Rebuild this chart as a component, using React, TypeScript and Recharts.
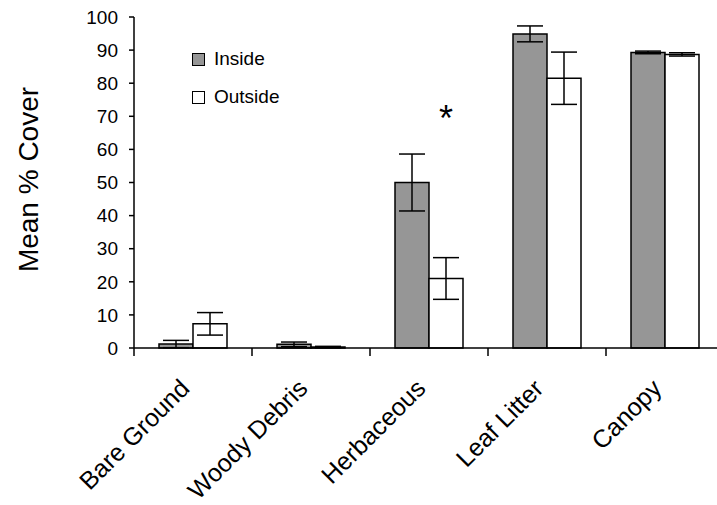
import React from "react";
import {
  BarChart,
  Bar,
  XAxis,
  YAxis,
  ErrorBar,
  Legend,
  ReferenceDot,
} from "recharts";

const FONT = "'Liberation Sans', Arial, sans-serif";

const categories = [
  "Bare Ground",
  "Woody Debris",
  "Herbaceous",
  "Leaf Litter",
  "Canopy",
];
const insideMean = [1.2, 1.1, 50.0, 94.9, 89.3];
const insideErr = [1.1, 0.7, 8.6, 2.4, 0.4];
const outsideMean = [7.3, 0.3, 21.0, 81.5, 88.7];
const outsideErr = [3.4, 0.2, 6.3, 7.9, 0.5];
const yTicks = [0, 10, 20, 30, 40, 50, 60, 70, 80, 90, 100];

// significance marker: category and height of the asterisk
const sigCategory = "Herbaceous";
const sigY = 71;

const data = categories.map((name, i) => ({
  name,
  inside: insideMean[i],
  insideErr: insideErr[i],
  outside: outsideMean[i],
  outsideErr: outsideErr[i],
}));

const BAR_SIZE = 34;

const CategoryTick = (props: any) => {
  const { x, y, payload } = props;
  const half = payload?.offset ?? 59;
  const ax = x - 2;
  const ay = y + 42;
  return (
    <g>
      <line x1={x - half} y1={y} x2={x - half} y2={y + 8} stroke="#000" strokeWidth={1.5} />
      <text
        x={ax}
        y={ay}
        textAnchor="end"
        transform={`rotate(-45, ${ax}, ${ay})`}
        fontSize={25}
        fontFamily={FONT}
        fill="#000"
      >
        {payload.value}
      </text>
    </g>
  );
};

const LegendBox = ({ payload }: any) => (
  <div style={{ fontFamily: FONT, fontSize: 19, color: "#000" }}>
    {(payload || []).map((entry: any, i: number) => (
      <div
        key={i}
        style={{ display: "flex", alignItems: "center", height: 22, marginBottom: 16 }}
      >
        <span
          style={{
            width: 11,
            height: 11,
            border: "1.5px solid #000",
            background: entry.dataKey === "inside" ? "#969696" : "#fff",
            marginRight: 9,
            display: "inline-block",
          }}
        />
        {entry.value}
      </div>
    ))}
  </div>
);

export default function App() {
  return (
    <div
      style={{
        position: "absolute",
        left: 0,
        top: 0,
        width: 717,
        height: 505,
        overflow: "hidden",
        background: "#fff",
      }}
    >
      <BarChart
        width={740}
        height={505}
        data={data}
        margin={{ top: 17, right: 16, left: 0, bottom: 0 }}
        barGap={0}
      >
        <XAxis
          dataKey="name"
          axisLine={{ stroke: "#000", strokeWidth: 1.5 }}
          tickLine={false}
          tickSize={0}
          tickMargin={0}
          interval={0}
          tick={<CategoryTick />}
          height={157}
        />
        <YAxis
          domain={[0, 100]}
          ticks={yTicks}
          interval={0}
          width={134}
          axisLine={{ stroke: "#000", strokeWidth: 1.5 }}
          tickLine={{ stroke: "#000", strokeWidth: 1.5 }}
          tickSize={5}
          tickMargin={11}
          tick={{ fontSize: 19, fill: "#000", fontFamily: FONT }}
          label={{
            content: ({ viewBox }: any) => {
              const cx = 38;
              const cy = viewBox.y + viewBox.height / 2 - 3;
              return (
                <text
                  x={cx}
                  y={cy}
                  textAnchor="middle"
                  transform={`rotate(-90, ${cx}, ${cy})`}
                  fontSize={28}
                  fontFamily={FONT}
                  fill="#000"
                >
                  Mean % Cover
                </text>
              );
            },
          }}
        />
        <Legend
          layout="vertical"
          verticalAlign="middle"
          align="center"
          content={<LegendBox />}
          wrapperStyle={{ left: 192, top: 48, width: 140 }}
        />
        <Bar
          dataKey="inside"
          name="Inside"
          fill="#969696"
          stroke="#000"
          strokeWidth={1.5}
          barSize={BAR_SIZE}
          isAnimationActive={false}
        >
          <ErrorBar dataKey="insideErr" width={13} stroke="#000" strokeWidth={1.5} />
        </Bar>
        <Bar
          dataKey="outside"
          name="Outside"
          fill="#fff"
          stroke="#000"
          strokeWidth={1.5}
          barSize={BAR_SIZE}
          isAnimationActive={false}
        >
          <ErrorBar dataKey="outsideErr" width={13} stroke="#000" strokeWidth={1.5} />
        </Bar>
        <ReferenceDot
          x={sigCategory}
          y={sigY}
          r={0}
          ifOverflow="visible"
          shape={(p: any) => (
            <text
              x={p.cx + BAR_SIZE / 2}
              y={p.cy + 18}
              textAnchor="middle"
              fontSize={36}
              fontFamily={FONT}
              fill="#000"
            >
              *
            </text>
          )}
        />
      </BarChart>
    </div>
  );
}
